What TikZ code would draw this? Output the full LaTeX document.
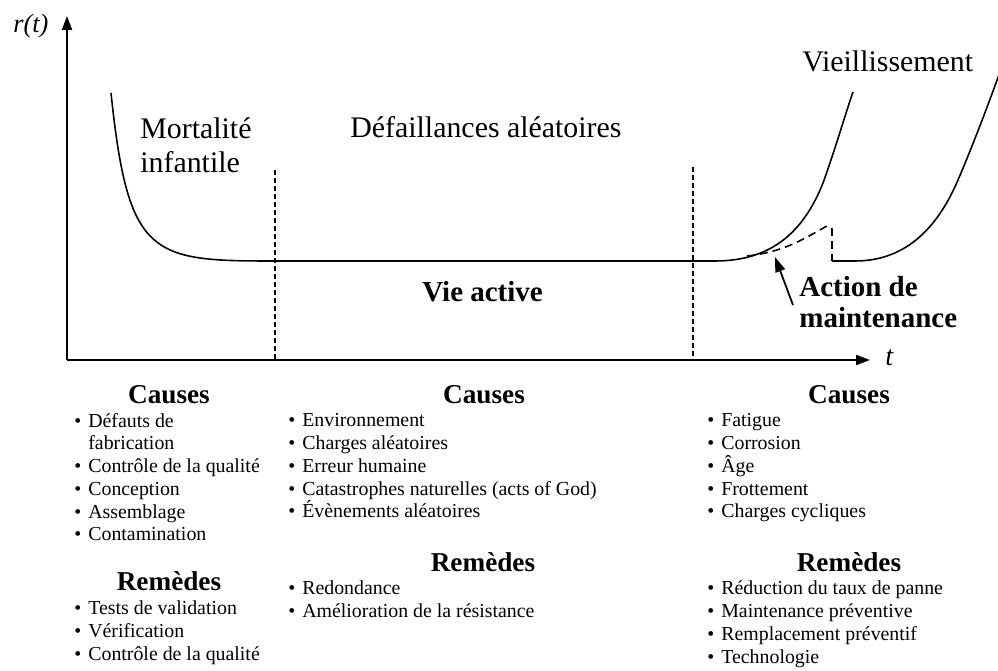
\documentclass[tikz,border=0pt]{standalone}
\usepackage{fontspec}
\setmainfont{Liberation Serif}
\usetikzlibrary{arrows.meta}
% bullet hung to the left of an item's text
\newcommand{\bul}{\llap{\textbullet\hspace{4pt}}}
\begin{document}
\begin{tikzpicture}[x=0.02cm,y=-0.02cm,
  axis/.style={line width=1.2pt,-{Triangle[length=0.28cm,width=0.2cm]}},
  curve/.style={line width=0.9pt},
  sep/.style={line width=1.1pt,dash pattern=on 0.1cm off 0.06cm},
  maint/.style={line width=0.9pt,dash pattern=on 0.16cm off 0.1cm},
  lbl/.style={anchor=base west,inner sep=0pt,font=\fontsize{17}{18}\selectfont},
  blbl/.style={anchor=base west,inner sep=0pt,font=\fontsize{16.5}{18}\selectfont\bfseries},
  head/.style={anchor=base,inner sep=0pt,font=\fontsize{15.5}{16}\selectfont\bfseries},
  item/.style={anchor=base west,inner sep=0pt,font=\fontsize{11.3}{12}\selectfont},
]
\useasboundingbox (0,0) rectangle (998,671);
\fill[white] (0,0) rectangle (998,671);

% axes
\coordinate (O) at (67,360);
\coordinate (ytop) at (67,16);
\coordinate (xend) at (870,360);
\draw[axis] (O) -- (ytop);
\draw[axis] (O) -- (xend);
\node[anchor=base west,inner sep=0pt,font=\fontsize{15}{16}\selectfont\itshape] (rt) at (13,33) {r(t)};
\node[anchor=base west,inner sep=0pt,font=\fontsize{16}{16}\selectfont\itshape] (tlab) at (885,366) {t};

% phase separators
\draw[sep] (275,170) -- (275,360);
\draw[sep] (693,167) -- (693,360);

% bathtub curve
\draw[curve] (111,93) .. controls (128,255) and (150,261) .. (270,261) -- (715,261)
  .. controls (775,261) and (805,228) .. (823,183)
  .. controls (835,150) and (845,115) .. (853,92);
% effect of a maintenance action
\draw[maint] (747,256) .. controls (785,252) and (805,238) .. (827,226) -- (832,229) -- (832,261);
\draw[curve] (832,261) -- (855,261) .. controls (910,261) and (940,222) .. (958,180)
  .. controls (975,140) and (988,105) .. (1000,72);

% curve labels
\node[lbl] (mort) at (140,139) {Mortalit\'e};
\node[lbl] (inf) at (140,173) {infantile};
\node[lbl] (defa) at (350,138) {D\'efaillances al\'eatoires};
\node[lbl] (vieil) at (802,72) {Vieillissement};
\node[blbl] (vie) at (422,302) {Vie active};
\node[blbl] (act1) at (799,297) {Action de};
\node[blbl] (act2) at (799,328) {maintenance};
\coordinate (mtail) at (793,305);
\coordinate (mtip) at (775,257);
\draw[line width=1pt,-{Triangle[length=0.3cm,width=0.2cm]}] (mtail) -- (mtip);

% infant mortality: causes and remedies
\node[head] (c1h) at (169,404) {Causes};
\node[item] (c1a) at (88,428) {\bul D\'efauts de};
\node[item] (c1b) at (88,450) {fabrication};
\foreach [count=\i] \txt in {Contr\^ole de la qualit\'e, Conception, Assemblage, Contamination}
  \node[item] (c1-\i) at (88,{450+22.7*\i}) {\bul\txt};
\node[head] (r1h) at (169,591) {Rem\`edes};
\foreach [count=\i] \txt in {Tests de validation, V\'erification, Contr\^ole de la qualit\'e}
  \node[item] (r1-\i) at (88,{592+23*\i}) {\bul\txt};

% random failures: causes and remedies
\node[head] (c2h) at (484,404) {Causes};
\foreach [count=\i] \txt in {Environnement, Charges al\'eatoires, Erreur humaine, Catastrophes naturelles (acts of God), \'Ev\`enements al\'eatoires}
  \node[item] (c2-\i) at (302,{404.3+22.7*\i}) {\bul\txt};
\node[head] (r2h) at (483,572) {Rem\`edes};
\foreach [count=\i] \txt in {Redondance, Am\'elioration de la r\'esistance}
  \node[item] (r2-\i) at (302,{572+23*\i}) {\bul\txt};

% wear-out: causes and remedies
\node[head] (c3h) at (849,404) {Causes};
\foreach [count=\i] \txt in {Fatigue, Corrosion, \^Age, Frottement, Charges cycliques}
  \node[item] (c3-\i) at (721,{404.3+22.7*\i}) {\bul\txt};
\node[head] (r3h) at (849,572) {Rem\`edes};
\foreach [count=\i] \txt in {R\'eduction du taux de panne, Maintenance pr\'eventive, Remplacement pr\'eventif, Technologie}
  \node[item] (r3-\i) at (721,{572+23*\i}) {\bul\txt};
\end{tikzpicture}
\end{document}
